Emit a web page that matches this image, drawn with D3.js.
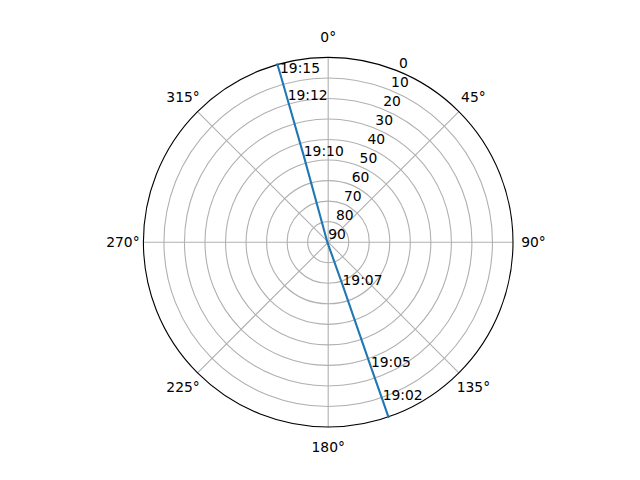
<!DOCTYPE html>
<html>
<head>
<meta charset="utf-8">
<script src="https://cdn.jsdelivr.net/npm/d3@7"></script>
<style>
  html, body { margin: 0; padding: 0; background: #fff; }
  svg text { font-family: "DejaVu Sans", sans-serif; font-size: 13.89px; fill: #000; }
</style>
</head>
<body>
<svg id="chart" width="640" height="480"></svg>
<script>
// ---- data ----
const trackTimes = ["19:01", "19:02", "19:05", "19:07", "19:08", "19:10", "19:12", "19:15", "19:16"];
const trackAz    = [161.0, 161.0, 161.1, 161.4, 252.0, 344.2, 344.1, 344.1, 344.05];
const trackEl    = [0.0, 8.5, 25.7, 68.1, 89.6, 46.3, 17.9, 4.3, 0.0];
const labeledTimes = ["19:02", "19:05", "19:07", "19:10", "19:12", "19:15"];
const thetaTicks = [0, 45, 90, 135, 180, 225, 270, 315];
const thetaTickLabels = ["0°", "45°", "90°", "135°", "180°", "225°", "270°", "315°"];
const rTicks = [0, 10, 20, 30, 40, 50, 60, 70, 80, 90];
const rTickLabels = ["0", "10", "20", "30", "40", "50", "60", "70", "80", "90"];
const rLabelAngle = 22.5;

// ---- layout ----
const cx = 328.2, cy = 242.2, R = 184.8;
const svg = d3.select("#chart");
const g = svg.append("g").attr("transform", `translate(${cx},${cy})`);

const rScale = d3.scaleLinear().domain([90, 0]).range([0, R]);
const aScale = d3.scaleLinear().domain([0, 360]).range([0, 2 * Math.PI]);
const px = (az, el) => rScale(el) * Math.sin(aScale(az));
const py = (az, el) => -rScale(el) * Math.cos(aScale(az));

// grid circles
g.selectAll("circle.grid")
  .data(rTicks.filter(t => t > 0 && t < 90))
  .join("circle")
  .attr("class", "grid")
  .attr("r", d => rScale(d))
  .attr("fill", "none")
  .attr("stroke", "#b0b0b0")
  .attr("stroke-width", 1.1);

// radial grid lines
g.selectAll("line.spoke")
  .data(thetaTicks)
  .join("line")
  .attr("class", "spoke")
  .attr("x1", 0).attr("y1", 0)
  .attr("x2", d => px(d, 0))
  .attr("y2", d => py(d, 0))
  .attr("stroke", "#b0b0b0")
  .attr("stroke-width", 1.1);

// outer spine
g.append("circle")
  .attr("r", rScale(0))
  .attr("fill", "none")
  .attr("stroke", "#000")
  .attr("stroke-width", 1.1);

// theta labels
g.selectAll("text.theta")
  .data(thetaTicks)
  .join("text")
  .attr("class", "theta")
  .attr("x", d => (R + 20.5) * Math.sin(aScale(d)))
  .attr("y", d => -(R + 20.5) * Math.cos(aScale(d)))
  .attr("text-anchor", "middle")
  .attr("dominant-baseline", "central")
  .text((d, i) => thetaTickLabels[i]);

// radial labels
g.selectAll("text.rlabel")
  .data(rTicks)
  .join("text")
  .attr("class", "rlabel")
  .attr("x", d => px(rLabelAngle, d))
  .attr("y", d => py(rLabelAngle, d) - 3.3)
  .attr("text-anchor", "start")
  .text((d, i) => rTickLabels[i]);

// track line
const pts = trackTimes.map((t, i) => ({ t, az: trackAz[i], el: trackEl[i] }));
const line = d3.lineRadial()
  .angle(d => aScale(d.az))
  .radius(d => rScale(d.el));
g.append("path")
  .datum(pts)
  .attr("d", line)
  .attr("fill", "none")
  .attr("stroke", "#1f77b4")
  .attr("stroke-width", 2.08)
  .attr("stroke-linecap", "square");

// time labels
g.selectAll("text.time")
  .data(pts.filter(p => labeledTimes.includes(p.t)))
  .join("text")
  .attr("class", "time")
  .attr("x", d => px(d.az, d.el))
  .attr("y", d => py(d.az, d.el))
  .attr("text-anchor", "start")
  .text(d => d.t);
</script>
</body>
</html>
